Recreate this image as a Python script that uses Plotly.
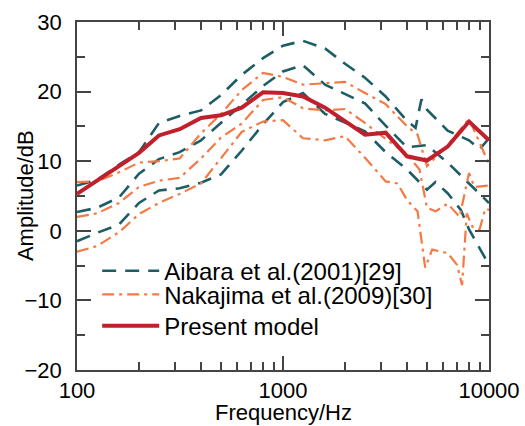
import plotly.graph_objects as go

# ---- data ----
model_freq = [100, 125, 160, 200, 250, 315, 400, 500, 630, 800, 1000, 1250,
              1600, 2000, 2500, 3150, 4000, 5000, 6300, 8000, 10000]
model_amp = [5.3, 7.2, 9.3, 11.2, 13.7, 14.6, 16.2, 16.6, 17.7, 19.9, 19.8, 19.3,
             17.7, 15.8, 13.8, 14.1, 10.7, 10.1, 12.1, 15.7, 13.0]

aibara_hi_freq = [100, 125, 160, 200, 250, 315, 400, 500, 630, 800, 1000, 1250,
                  1600, 2000, 2500, 3150, 4000, 4400, 4700, 5000, 6300, 8000, 9000, 10000]
aibara_hi = [6.5, 7.3, 9.5, 11.3, 15.5, 16.5, 17.3, 19.5, 22.4, 24.8, 26.6, 27.3,
             26.2, 24.0, 22.0, 19.3, 15.8, 14.8, 18.9, 17.4, 14.4, 13.0, 11.7, 13.3]

aibara_mid_freq = [100, 125, 160, 200, 250, 315, 400, 500, 630, 800, 1000, 1250,
                   1600, 2000, 2500, 3150, 4000, 5000, 6300, 8000, 10000]
aibara_mid = [2.7, 3.3, 4.8, 8.2, 10.3, 11.3, 13.0, 15.5, 18.0, 20.8, 22.9, 23.8,
              21.0, 19.6, 18.3, 15.1, 12.0, 12.3, 9.8, 6.8, 4.0]

aibara_lo_freq = [100, 125, 160, 200, 250, 315, 400, 500, 630, 800, 1000, 1250,
                  1600, 2000, 2500, 3150, 4000, 5000, 5500, 6300, 7300, 8000, 9000, 10000]
aibara_lo = [-1.5, -0.3, 0.9, 4.0, 5.8, 6.1, 6.9, 8.1, 11.5, 15.3, 18.5, 19.8,
             16.8, 15.5, 14.3, 11.3, 8.8, 5.9, 7.0, 5.4, 3.0, 0.2, -2.6, -4.9]

naka_hi_freq = [100, 125, 160, 200, 250, 315, 400, 500, 630, 800, 1000, 1250,
                1600, 2000, 2500, 3150, 4000, 4500, 5000, 6300, 8000, 10000]
naka_hi = [7.0, 7.1, 8.4, 9.8, 10.0, 10.4, 14.0, 16.8, 20.2, 22.7, 22.1, 21.0,
           21.2, 21.4, 19.8, 18.2, 15.0, 13.8, 9.3, 12.3, 16.1, 9.6]

naka_mid_freq = [100, 125, 160, 200, 250, 315, 400, 500, 630, 800, 1000, 1250,
                 1600, 2000, 2500, 3150, 4000, 4600, 5000, 5500, 6300, 7200, 8000, 8500, 10000]
naka_mid = [2.0, 2.5, 4.0, 6.3, 7.2, 7.6, 10.4, 13.4, 15.4, 18.8, 19.2, 17.6,
            17.3, 17.5, 15.5, 13.2, 11.0, 8.8, 3.3, 2.8, 3.9, 2.0, 8.3, 6.3, 6.5]

naka_lo_freq = [100, 125, 160, 200, 250, 315, 400, 500, 630, 800, 1000, 1250,
                1600, 2000, 2500, 3150, 3600, 4000, 4500, 4900, 5300, 6300, 7000, 7400,
                7800, 8300, 9000, 9600, 10000]
naka_lo = [-3.0, -2.2, -0.2, 2.4, 4.0, 5.3, 6.8, 10.5, 14.2, 15.7, 15.9, 13.3,
           13.0, 13.6, 10.5, 7.1, 6.8, 4.4, 2.8, -5.3, -2.7, -3.2, -4.9, -7.8,
           2.5, 0.6, 0.2, 3.2, 3.0]

x_tick_vals = [100, 1000, 10000]
x_tick_text = ["100", "1000", "10000"]

TEAL = "#1d5e66"
ORANGE = "#f47a45"
RED = "#c11f2c"
AXC = "#444444"
FONT = "Liberation Sans, Arial, sans-serif"

fig = go.Figure()

aib = [(aibara_hi_freq, aibara_hi), (aibara_mid_freq, aibara_mid), (aibara_lo_freq, aibara_lo)]
for i, (f, v) in enumerate(aib):
    fig.add_trace(go.Scatter(
        x=f, y=v, mode="lines", name="Aibara et al.(2001)[29]",
        legend="legend", showlegend=(i == 0),
        line=dict(color=TEAL, width=2.6, dash="14px,9px")))

nak = [(naka_hi_freq, naka_hi), (naka_mid_freq, naka_mid), (naka_lo_freq, naka_lo)]
for i, (f, v) in enumerate(nak):
    fig.add_trace(go.Scatter(
        x=f, y=v, mode="lines", name="Nakajima et al.(2009)[30]",
        legend="legend2", showlegend=(i == 0),
        line=dict(color=ORANGE, width=2.2, dash="12px,5px,3px,5px")))

fig.add_trace(go.Scatter(
    x=model_freq, y=model_amp, mode="lines", name="Present model",
    legend="legend3",
    line=dict(color=RED, width=4)))

axis_common = dict(
    showline=True, linecolor=AXC, linewidth=1.5, mirror="ticks",
    ticks="inside", tickcolor=AXC, tickwidth=1.5, ticklen=14,
    showgrid=False, zeroline=False, automargin=False,
    tickfont=dict(size=22, color="black", family=FONT),
)

fig.update_xaxes(
    type="log", range=[2, 4], tickvals=x_tick_vals, ticktext=x_tick_text,
    minor=dict(ticks="inside", ticklen=8, tickwidth=1.5, tickcolor=AXC,
               dtick="D1", showgrid=False),
    **axis_common)
fig.update_yaxes(
    range=[-20, 30], dtick=10,
    minor=dict(ticks="inside", ticklen=8, tickwidth=1.5, tickcolor=AXC,
               dtick=5, showgrid=False),
    ticklabelstandoff=9,
    **axis_common)

leg_common = dict(xanchor="left", yanchor="middle", bgcolor="rgba(0,0,0,0)",
                  borderwidth=0, itemwidth=57,
                  font=dict(size=24, color="black", family=FONT))

fig.update_layout(
    width=525, height=426,
    margin=dict(l=77, r=36, t=22, b=56),
    paper_bgcolor="white", plot_bgcolor="white",
    font=dict(family=FONT, size=22, color="black"),
    showlegend=True,
    legend=dict(x=0.049, y=0.284, **leg_common),
    legend2=dict(x=0.049, y=0.216, **leg_common),
    legend3=dict(x=0.049, y=0.126, **leg_common),
    annotations=[
        dict(text="Frequency/Hz", xref="paper", yref="paper", x=0.5, y=-0.08,
             xanchor="center", yanchor="top", showarrow=False,
             font=dict(size=22, color="black", family=FONT)),
        dict(text="Amplitude/dB", xref="paper", yref="paper", x=-0.126, y=0.5,
             xanchor="center", yanchor="middle", textangle=-90, showarrow=False,
             font=dict(size=22, color="black", family=FONT)),
    ],
)

fig.write_html("out.html", config={"displayModeBar": False},
               post_script="document.body.style.margin='0';document.body.style.padding='0';")
